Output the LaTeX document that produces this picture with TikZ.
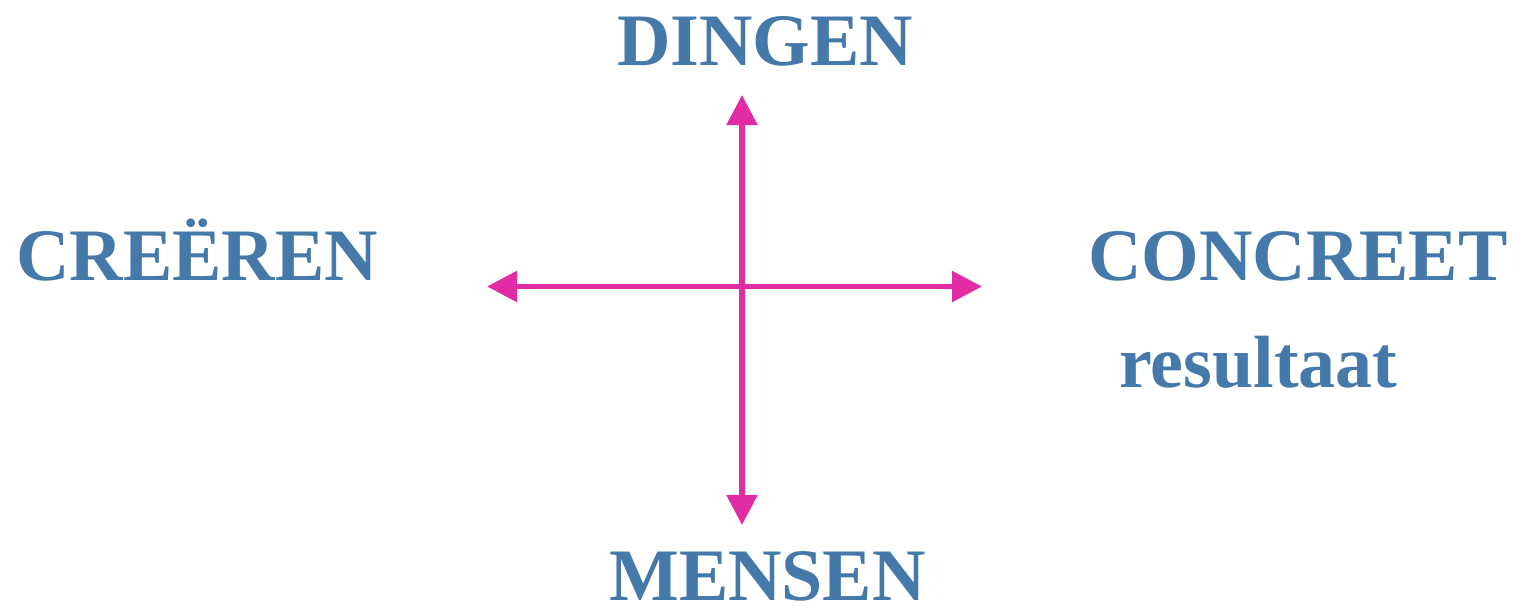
\documentclass[tikz,border=0pt]{standalone}
\usepackage{fontspec}
\setmainfont{Liberation Serif}
\usetikzlibrary{arrows.meta}
\definecolor{lblue}{HTML}{4479AA}
\definecolor{mag}{HTML}{E22CA5}
\tikzset{
  lbl/.style={text=lblue, font=\bfseries\fontsize{74}{74}\selectfont, inner sep=0pt, anchor=base west},
  axis/.style={draw=mag, line width=5.5pt, {Triangle[width=30pt,length=30pt]}-{Triangle[width=30pt,length=30pt]}}
}
\begin{document}
\begin{tikzpicture}[x=1pt,y=-1pt]
\useasboundingbox (0,0) rectangle (1528,605);
\node[lbl] (dingen) at (617,65) {DINGEN};
\node[lbl] (creeren) at (16,280) {CREËREN};
\node[lbl] (concreet) at (1088,280) {CONCREET};
\node[lbl] (resultaat) at (1119,387) {resultaat};
\node[lbl] (mensen) at (609,600) {MENSEN};
\coordinate (top) at (742,95);
\coordinate (bot) at (742,525);
\coordinate (left) at (487,286.5);
\coordinate (right) at (982,286.5);
\draw[axis] (top) -- (bot);
\draw[axis] (left) -- (right);
\end{tikzpicture}
\end{document}
